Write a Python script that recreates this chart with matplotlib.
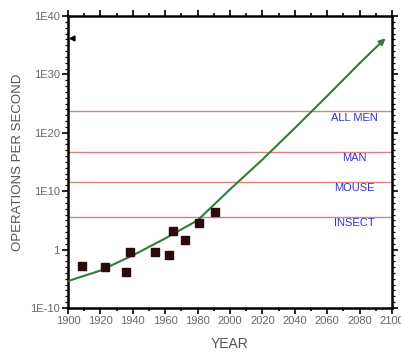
import numpy as np
import matplotlib
matplotlib.use("Agg")
from matplotlib import pyplot as plt
from matplotlib.ticker import FixedLocator, FuncFormatter

plt.rcParams["font.family"] = ["Liberation Sans", "DejaVu Sans"]

# measured machines (year, log10 ops/sec)
point_years = [1908.5, 1922.8, 1935.8, 1938.5, 1953.7, 1962.2, 1965.0, 1972.2, 1980.9, 1990.9]
point_logs = [-2.76, -2.98, -3.78, -0.36, -0.36, -0.92, 3.18, 1.64, 4.61, 6.39]

# trend curve
curve_years = [1900, 1920, 1940, 1960, 1980, 2000, 2020, 2040, 2060, 2080, 2096]
curve_logs = [-5.4, -3.6, -1.0, 1.9, 5.0, 10.3, 15.4, 20.8, 26.3, 31.9, 36.2]

# reference levels
level_names = ["ALL MEN", "MAN", "MOUSE", "INSECT"]
level_logs = [23.7, 16.7, 11.6, 5.6]

fig = plt.figure(figsize=(4.02, 3.56), dpi=100)
ax = fig.add_axes([0.169, 0.135, 0.806, 0.82])

for name, lg in zip(level_names, level_logs):
    ax.axhline(10 ** lg, color="#d98080", lw=1.0, zorder=1)
    ax.text(2077, 10 ** (lg - 1.1), name, color="#3434c8", fontsize=8,
            ha="center", va="center", zorder=2)

cy = 10 ** np.array(curve_logs)
ax.plot(curve_years[:-1], cy[:-1], color="#2f7d3a", lw=1.5, zorder=3)
ax.annotate("", xy=(curve_years[-1], cy[-1]), xytext=(curve_years[-2], cy[-2]),
            arrowprops=dict(arrowstyle="-|>", color="#2f7d3a", lw=1.5,
                            mutation_scale=9, shrinkA=0, shrinkB=0), zorder=3)

ax.plot(point_years, 10 ** np.array(point_logs), "s", color="#2a0a0a",
        markersize=5.5, zorder=4)

ax.plot([1902.5], [10 ** 36.2], marker="<", color="black", markersize=3.5,
        clip_on=False, zorder=5)

ax.set_yscale("log")
ax.set_xlim(1900, 2100)
ax.set_ylim(1e-10, 1e40)

ax.xaxis.set_major_locator(FixedLocator(range(1900, 2101, 20)))
ax.xaxis.set_minor_locator(FixedLocator(range(1910, 2100, 20)))
ax.yaxis.set_major_locator(FixedLocator([10.0 ** k for k in range(-10, 41, 10)]))
ax.yaxis.set_minor_locator(FixedLocator([10.0 ** k for k in range(-10, 41)]))


def fmt(v, pos):
    e = int(round(np.log10(v)))
    return "1" if e == 0 else "1E%d" % e


ax.yaxis.set_major_formatter(FuncFormatter(fmt))
ax.yaxis.set_minor_formatter(FuncFormatter(lambda v, p: ""))

ax.tick_params(which="both", direction="out", top=True, right=True,
               labelsize=8, labelcolor="#666666", width=1.2, pad=2)
ax.tick_params(which="major", length=4)
ax.tick_params(which="minor", length=2.5)
ax.tick_params(axis="y", which="minor", length=2.5, width=0.9)
for s in ax.spines.values():
    s.set_linewidth(1.8)

ax.set_xlabel("YEAR", fontsize=10, color="#555555", labelpad=8)
ax.set_ylabel("OPERATIONS PER SECOND", fontsize=9.5, color="#555555", labelpad=4)

fig.savefig("out.png", dpi=100)
